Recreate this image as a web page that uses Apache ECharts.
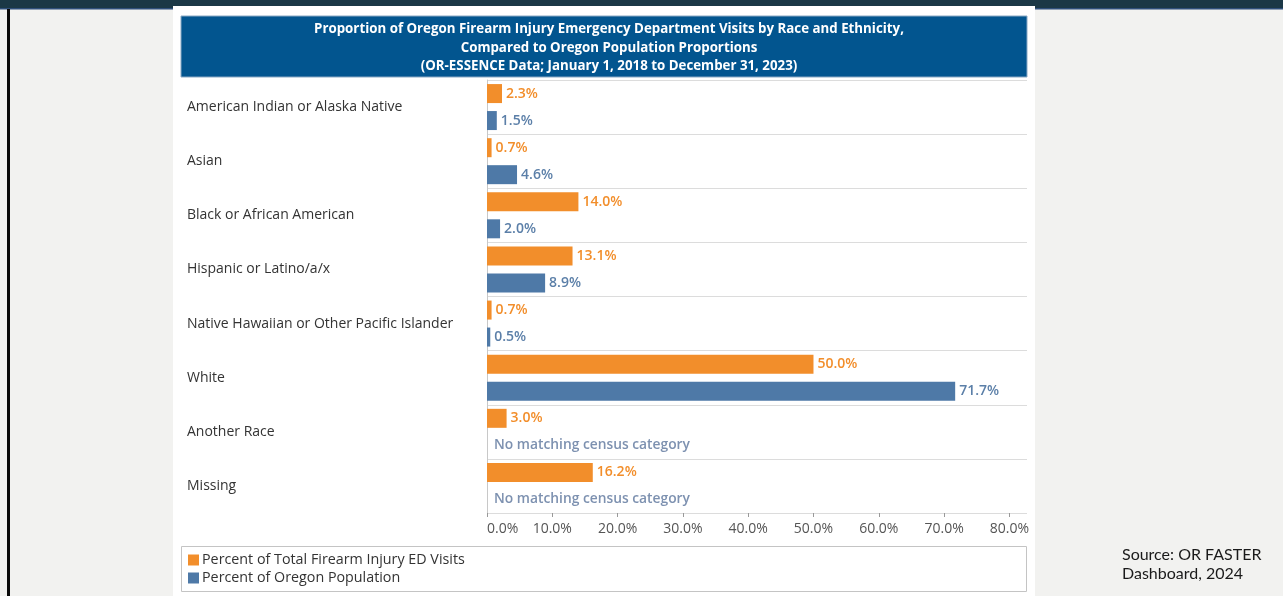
<!DOCTYPE html>
<html><head><meta charset="utf-8">
<script src="https://cdn.jsdelivr.net/npm/echarts@6/dist/echarts.min.js"></script>
<style>html,body{margin:0;padding:0;background:#f2f2f0;}#c{width:1283px;height:596px;}</style>
</head><body><div id="c"></div>
<script>
const categories = ['American Indian or Alaska Native','Asian','Black or African American','Hispanic or Latino/a/x','Native Hawaiian or Other Pacific Islander','White','Another Race','Missing'];
const edVisits = [2.3, 0.7, 14.0, 13.1, 0.7, 50.0, 3.0, 16.2];
const population = [1.5, 4.6, 2.0, 8.9, 0.5, 71.7, null, null];
const tickValues = [0, 10, 20, 30, 40, 50, 60, 70, 80];
const seriesNames = ['Percent of Total Firearm Injury ED Visits', 'Percent of Oregon Population'];
const noMatchText = 'No matching census category';
const titleLines = ['Proportion of Oregon Firearm Injury Emergency Department Visits by Race and Ethnicity,', 'Compared to Oregon Population Proportions', '(OR-ESSENCE Data; January 1, 2018 to December 31, 2023)'];

const ORANGE = '#f28e2b', BLUE = '#4e79a7';
const FONT = 'Open Sans';
const chart = echarts.init(document.getElementById('c'), null, {renderer: 'canvas'});

const popData = population.map(v => v == null
  ? {value: 0, label: {formatter: noMatchText, color: '#7d91b0', fontSize: 13.8, distance: 7}}
  : v);

chart.setOption({
  backgroundColor: '#f2f2f0',
  animation: false,
  graphic: [
    {type: 'rect', z: -10, shape: {x: 0, y: 0, width: 1283, height: 8}, style: {fill: '#1b3846'}},
    {type: 'rect', z: -10, shape: {x: 0, y: 8, width: 1283, height: 1.5}, style: {fill: '#2f4f7a'}},
    {type: 'rect', z: -10, shape: {x: 7, y: 9, width: 3, height: 600}, style: {fill: '#0a0a0a'}},
    {type: 'rect', z: -9, shape: {x: 173, y: 6, width: 862, height: 600}, style: {fill: '#ffffff'}},
    {type: 'rect', z: -8, shape: {x: 181, y: 16, width: 846, height: 61}, style: {fill: '#02558f', stroke: '#8aa9c4', lineWidth: 1}},
    {type: 'rect', z: -8, shape: {x: 181.5, y: 546.5, width: 845, height: 45}, style: {fill: '#ffffff', stroke: '#c4c4c4', lineWidth: 1}},
    {type: 'text', z: 5, left: 1122, top: 545, style: {text: 'Source: OR FASTER\nDashboard, 2024', font: '16px Lato', fill: '#1a1a1a', lineHeight: 19}}
  ],
  title: {
    text: titleLines.join('\n'),
    left: 604, top: 15, textAlign: 'center',
    textStyle: {color: '#ffffff', fontFamily: 'Open Sans', fontWeight: 'bold', fontSize: 13.3, lineHeight: 18.5}
  },
  legend: {
    orient: 'vertical', left: 183, top: 548, itemWidth: 11, itemHeight: 11, itemGap: 4,
    icon: 'rect', data: seriesNames,
    textStyle: {fontFamily: FONT, fontSize: 14.3, color: '#333', padding: [0, 0, 0, -2]}
  },
  grid: {left: 487, top: 80, right: 256, bottom: 83, containLabel: false},
  xAxis: {
    type: 'value', min: 0, max: 82.7,
    axisLine: {show: false},
    splitLine: {show: false},
    axisTick: {show: true, length: 4, lineStyle: {color: '#999'}, customValues: tickValues},
    axisLabel: {customValues: tickValues, formatter: v => v.toFixed(1) + '%', fontFamily: FONT, fontSize: 14, color: '#555', margin: 9, alignMinLabel: 'left'}
  },
  yAxis: {
    type: 'category', data: categories, inverse: true,
    axisLine: {show: true, lineStyle: {color: '#c8c8c8'}},
    axisTick: {show: false},
    splitLine: {show: true, lineStyle: {color: '#dcdcdc'}},
    axisLabel: {align: 'left', margin: 300, fontFamily: FONT, fontSize: 14, color: '#333', padding: [3, 0, 0, 0]}
  },
  series: [
    {name: seriesNames[0], type: 'bar', data: edVisits, barWidth: 19, barGap: '42%',
     itemStyle: {color: ORANGE},
     label: {show: true, position: 'right', distance: 4, formatter: p => p.value.toFixed(1) + '%', color: ORANGE, fontFamily: FONT, fontWeight: 600, fontSize: 14}},
    {name: seriesNames[1], type: 'bar', data: popData, barWidth: 19,
     itemStyle: {color: BLUE},
     label: {show: true, position: 'right', distance: 4, formatter: p => p.value.toFixed(1) + '%', color: '#5b7fa8', fontFamily: FONT, fontWeight: 600, fontSize: 14}}
  ]
});
</script></body></html>
